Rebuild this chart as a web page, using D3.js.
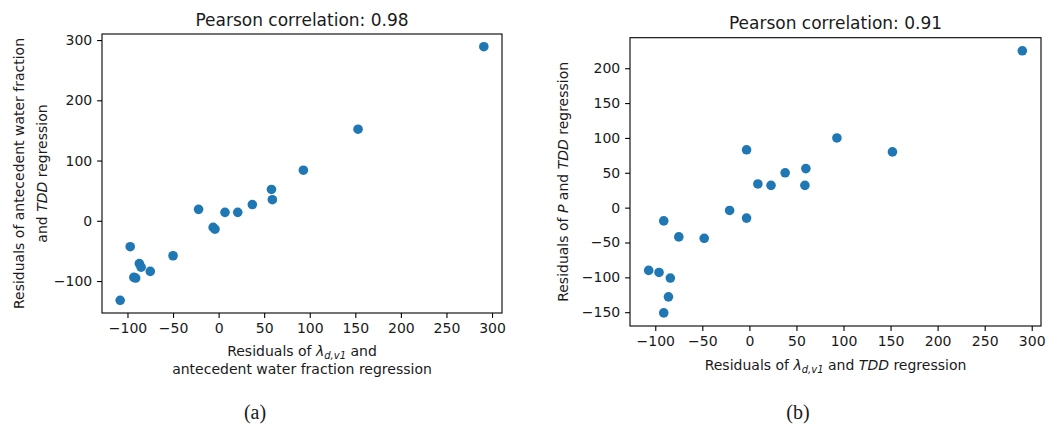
<!DOCTYPE html>
<html>
<head>
<meta charset="utf-8">
<script src="https://cdn.jsdelivr.net/npm/d3@7"></script>
<style>
  html, body { margin: 0; padding: 0; background: #fff; }
  svg { display: block; }
  text { font-family: "DejaVu Sans", sans-serif; fill: #1a1a1a; }
  .caption { font-family: "Liberation Serif", "Times New Roman", serif; }
</style>
</head>
<body>
<svg id="fig" width="1047" height="430"></svg>
<script>
// Panel (a): residuals of lambda vs antecedent water fraction, TDD
const aResidLambda = [291, 153, 93, 58, 59, 37, -22, 7, 21, -6, -4, -97, -50, -87, -85, -75, -93, -91, -108];
const aResidWater  = [289, 152, 84, 52, 35, 27, 19, 14, 14, -11, -14, -43, -58, -71, -77, -84, -94, -95, -132];
const aTitle = "Pearson correlation: 0.98";
const aXTicks = [-100, -50, 0, 50, 100, 150, 200, 250, 300];
const aYTicks = [-100, 0, 100, 200, 300];

// Panel (b): residuals of lambda vs TDD, P vs TDD
const bResidLambda = [290, 152, 93, -3, 60, 38, 9, 23, 59, -21, -3, -91, -75, -48, -107, -96, -84, -86, -91];
const bResidP      = [225, 80, 100, 83, 56, 50, 34, 32, 32, -4, -15, -19, -42, -44, -90, -93, -101, -128, -151];
const bTitle = "Pearson correlation: 0.91";
const bXTicks = [-100, -50, 0, 50, 100, 150, 200, 250, 300];
const bYTicks = [-150, -100, -50, 0, 50, 100, 150, 200];

const svg = d3.select("#fig");
svg.append("rect").attr("width", 1047).attr("height", 430).attr("fill", "#fff");

const fmt = d => d < 0 ? "\u2212" + Math.abs(d) : String(d);
const TICK = 4.9, PAD = 4.9, FS = 14;

// matplotlib-like autoscale: data extent padded by 5% on each side
function padded(vals) {
  const [lo, hi] = d3.extent(vals);
  const m = (hi - lo) * 0.05;
  return [lo - m, hi + m];
}

function panel(cfg) {
  const { left, right, top, bottom } = cfg.box;
  const x = d3.scaleLinear().domain(padded(cfg.xs)).range([left, right]);
  const y = d3.scaleLinear().domain(padded(cfg.ys)).range([bottom, top]);
  const g = svg.append("g");

  // points
  g.append("g").selectAll("circle")
    .data(cfg.xs.map((v, i) => [v, cfg.ys[i]]))
    .join("circle")
    .attr("cx", d => x(d[0]))
    .attr("cy", d => y(d[1]))
    .attr("r", 4.8)
    .attr("fill", "#1f77b4");

  // axes
  const xa = g.append("g").attr("transform", `translate(0,${bottom})`)
    .call(d3.axisBottom(x).tickValues(cfg.xTicks).tickFormat(fmt)
      .tickSize(TICK).tickPadding(PAD).tickSizeOuter(0));
  const ya = g.append("g").attr("transform", `translate(${left},0)`)
    .call(d3.axisLeft(y).tickValues(cfg.yTicks).tickFormat(fmt)
      .tickSize(TICK).tickPadding(PAD).tickSizeOuter(0));
  [xa, ya].forEach(a => {
    a.select(".domain").remove();
    a.selectAll(".tick line").attr("stroke", "#000").attr("stroke-width", 1.1);
    a.selectAll(".tick text").attr("font-size", FS).attr("font-family", "DejaVu Sans").attr("fill", "#1a1a1a");
  });

  // frame
  g.append("rect")
    .attr("x", left).attr("y", top)
    .attr("width", right - left).attr("height", bottom - top)
    .attr("fill", "none").attr("stroke", "#000").attr("stroke-width", 1.1);

  // title
  g.append("text")
    .attr("x", (left + right) / 2).attr("y", top - 8.5)
    .attr("text-anchor", "middle").attr("font-size", 17)
    .text(cfg.title);

  // x label
  cfg.xLabel(g, (left + right) / 2);
  // y label
  cfg.yLabel(g, (top + bottom) / 2);

  // caption
  g.append("text").attr("class", "caption")
    .attr("x", cfg.captionX).attr("y", 419)
    .attr("text-anchor", "middle").attr("font-size", 20)
    .text(cfg.caption);
}

// writes "Residuals of λ_{d,v1}" into a text element
function lambdaPart(t) {
  t.append("tspan").text("Residuals of ");
  t.append("tspan").attr("font-style", "italic").text("\u03bb");
  t.append("tspan").attr("font-style", "italic").attr("font-size", 10).attr("dy", 3).text("d,v1");
  t.append("tspan").attr("dy", -3).text(" and");
}

panel({
  box: { left: 102, right: 502, top: 34, bottom: 313 },
  xs: aResidLambda, ys: aResidWater,
  xTicks: aXTicks, yTicks: aYTicks,
  title: aTitle,
  caption: "(a)", captionX: 255,
  xLabel: (g, cx) => {
    const t1 = g.append("text").attr("x", cx).attr("y", 356).attr("text-anchor", "middle").attr("font-size", FS);
    lambdaPart(t1);
    g.append("text").attr("x", cx).attr("y", 374).attr("text-anchor", "middle").attr("font-size", FS)
      .text("antecedent water fraction regression");
  },
  yLabel: (g, cy) => {
    g.append("text").attr("transform", `translate(24,${cy}) rotate(-90)`)
      .attr("text-anchor", "middle").attr("font-size", FS)
      .text("Residuals of antecedent water fraction");
    const t = g.append("text").attr("transform", `translate(47,${cy}) rotate(-90)`)
      .attr("text-anchor", "middle").attr("font-size", FS);
    t.append("tspan").text("and ");
    t.append("tspan").attr("font-style", "italic").text("TDD");
    t.append("tspan").text(" regression");
  }
});

panel({
  box: { left: 630, right: 1041, top: 37.7, bottom: 326 },
  xs: bResidLambda, ys: bResidP,
  xTicks: bXTicks, yTicks: bYTicks,
  title: bTitle,
  caption: "(b)", captionX: 798,
  xLabel: (g, cx) => {
    const t = g.append("text").attr("x", cx).attr("y", 370).attr("text-anchor", "middle").attr("font-size", FS);
    lambdaPart(t);
    t.append("tspan").text(" ");
    t.append("tspan").attr("font-style", "italic").text("TDD");
    t.append("tspan").text(" regression");
  },
  yLabel: (g, cy) => {
    const t = g.append("text").attr("transform", `translate(568,${cy}) rotate(-90)`)
      .attr("text-anchor", "middle").attr("font-size", FS);
    t.append("tspan").text("Residuals of ");
    t.append("tspan").attr("font-style", "italic").text("P");
    t.append("tspan").text(" and ");
    t.append("tspan").attr("font-style", "italic").text("TDD");
    t.append("tspan").text(" regression");
  }
});
</script>
</body>
</html>
